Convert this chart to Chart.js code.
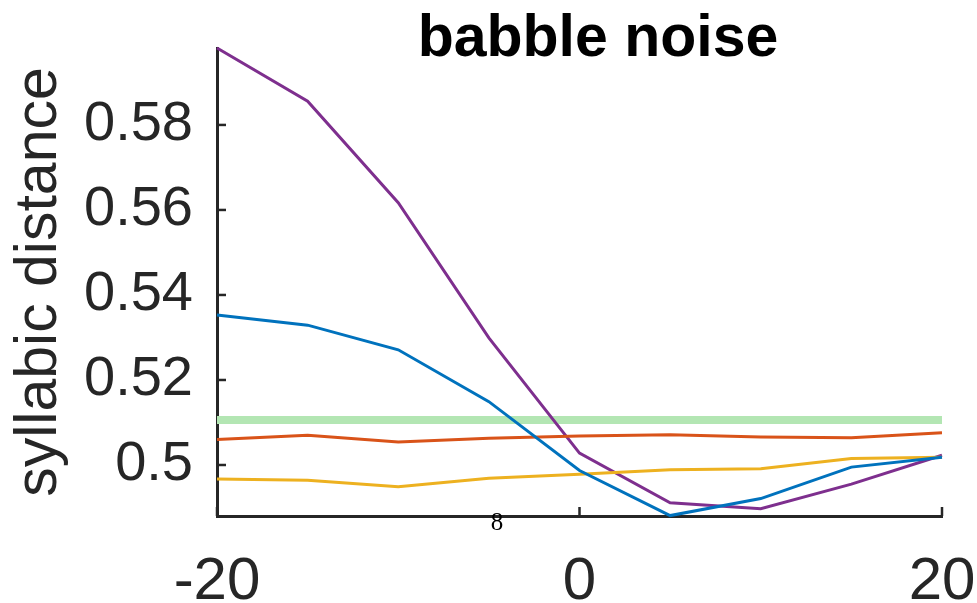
<!DOCTYPE html>
<html>
<head>
<meta charset="utf-8">
<script src="https://cdn.jsdelivr.net/npm/chart.js@4"></script>
<style>
  html, body { margin: 0; padding: 0; background: #fff; }
  #wrap { width: 977px; height: 603px; }
</style>
</head>
<body>
<div id="wrap"><canvas id="plot" width="977" height="603"></canvas></div>
<script>
// SNR values (dB) along the x axis
const snr = [-20, -15, -10, -5, 0, 5, 10, 15, 20];

// syllabic distance per condition
const blueVals   = [0.5353, 0.5329, 0.5271, 0.5149, 0.4987, 0.4881, 0.4921, 0.4995, 0.5018];
const orangeVals = [0.5060, 0.5070, 0.5054, 0.5063, 0.5068, 0.5071, 0.5066, 0.5064, 0.5076];
const yellowVals = [0.4967, 0.4964, 0.4949, 0.4969, 0.4978, 0.4989, 0.4991, 0.5015, 0.5018];
const purpleVals = [0.5981, 0.5856, 0.5617, 0.5299, 0.5028, 0.4911, 0.4897, 0.4955, 0.5023];
const referenceVal = 0.5106;

const xTicks = [-20, 0, 20];
const yTicks = [0.5, 0.52, 0.54, 0.56, 0.58];
const yTickLabels = ['0.5', '0.52', '0.54', '0.56', '0.58'];

const axisColor = '#262626';
const sans = "'Liberation Sans', Arial, Helvetica, sans-serif";

function toPoints(vals) {
    return snr.map((x, i) => ({ x: x, y: vals[i] }));
}

function lineSet(label, vals, color, width) {
    return {
        label: label,
        data: toPoints(vals),
        borderColor: color,
        backgroundColor: color,
        borderWidth: width,
        pointRadius: 0,
        tension: 0,
        fill: false,
        clip: false
    };
}

// inward ticks, title and the stray "8" label
const extras = {
    id: 'extras',
    afterDraw(chart) {
        const ctx = chart.ctx;
        const xs = chart.scales.x, ys = chart.scales.y;
        const area = chart.chartArea;
        ctx.save();
        ctx.strokeStyle = axisColor;
        ctx.lineWidth = 2.5;
        yTicks.forEach(v => {
            const py = ys.getPixelForValue(v);
            ctx.beginPath();
            ctx.moveTo(area.left, py);
            ctx.lineTo(area.left + 9, py);
            ctx.stroke();
        });
        xTicks.forEach(v => {
            const px = xs.getPixelForValue(v);
            ctx.beginPath();
            ctx.moveTo(px, area.bottom);
            ctx.lineTo(px, area.bottom - 9);
            ctx.stroke();
        });

        ctx.fillStyle = '#000';
        ctx.font = "bold 59px " + sans;
        ctx.textAlign = 'center';
        ctx.textBaseline = 'alphabetic';
        ctx.fillText('babble noise', 598, 56);

        ctx.font = "25px 'Liberation Serif', 'Times New Roman', serif";
        ctx.fillText('8', 497, 530);
        ctx.restore();
    }
};

const ctx = document.getElementById('plot').getContext('2d');
new Chart(ctx, {
    type: 'line',
    data: {
        datasets: [
            lineSet('blue', blueVals, '#0072BD', 3),
            lineSet('orange', orangeVals, '#D95319', 3),
            lineSet('yellow', yellowVals, '#EDB120', 3),
            lineSet('purple', purpleVals, '#7E2F8E', 3),
            lineSet('reference', snr.map(() => referenceVal), '#B3E6B3', 8)
        ]
    },
    options: {
        responsive: false,
        animation: false,
        devicePixelRatio: 1,
        layout: { padding: { top: 48, right: 35, left: 0, bottom: 0 } },
        plugins: {
            legend: { display: false },
            tooltip: { enabled: false },
            title: { display: false }
        },
        scales: {
            x: {
                type: 'linear',
                min: -20,
                max: 20,
                afterBuildTicks: s => { s.ticks = xTicks.map(v => ({ value: v })); },
                afterFit: s => { s.height = 87; s.paddingLeft = 0; s.paddingRight = 0; },
                grid: { display: false },
                border: { display: true, color: axisColor, width: 3 },
                ticks: {
                    color: axisColor,
                    font: { family: sans, size: 60 },
                    padding: 22,
                    maxRotation: 0,
                    autoSkip: false
                }
            },
            y: {
                type: 'linear',
                min: 0.488,
                max: 0.5981,
                afterBuildTicks: s => { s.ticks = yTicks.map(v => ({ value: v })); },
                afterFit: s => { s.width = 217; s.paddingTop = 0; s.paddingBottom = 0; },
                grid: { display: false },
                border: { display: true, color: axisColor, width: 3 },
                ticks: {
                    color: axisColor,
                    font: { family: sans, size: 56 },
                    padding: 16,
                    autoSkip: false,
                    callback: (v, i) => yTickLabels[i]
                },
                title: {
                    display: true,
                    text: 'syllabic distance',
                    color: axisColor,
                    font: { family: sans, size: 59 },
                    padding: { top: 4, bottom: 0 }
                }
            }
        }
    },
    plugins: [extras]
});
</script>
</body>
</html>
